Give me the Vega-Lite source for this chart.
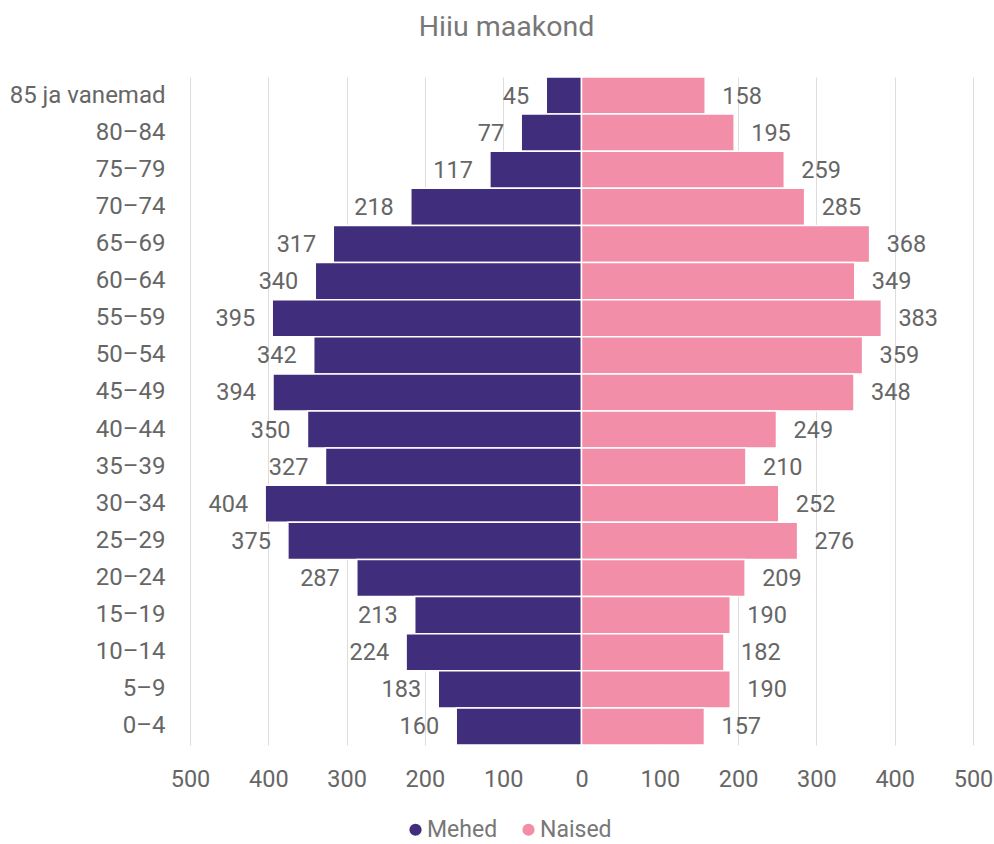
{
  "$schema": "https://vega.github.io/schema/vega-lite/v6.json",
  "width": 783,
  "height": 668,
  "autosize": {"type": "none"},
  "padding": {"left": 190, "top": 77, "right": 21, "bottom": 99},
  "config": {
    "font": "Roboto",
    "view": {"stroke": null},
    "axis": {"labelFont": "Roboto", "labelColor": "#666666", "labelFontSize": 23.5}
  },
  "title": {
    "text": "Hiiu maakond",
    "font": "Roboto",
    "fontSize": 28.5,
    "fontWeight": "normal",
    "color": "#777777",
    "anchor": "middle",
    "frame": "group",
    "dx": -75,
    "offset": 35
  },
  "data": {
    "values": [
      {"age": "85 ja vanemad", "sex": "Mehed", "value": 45},
      {"age": "80–84", "sex": "Mehed", "value": 77},
      {"age": "75–79", "sex": "Mehed", "value": 117},
      {"age": "70–74", "sex": "Mehed", "value": 218},
      {"age": "65–69", "sex": "Mehed", "value": 317},
      {"age": "60–64", "sex": "Mehed", "value": 340},
      {"age": "55–59", "sex": "Mehed", "value": 395},
      {"age": "50–54", "sex": "Mehed", "value": 342},
      {"age": "45–49", "sex": "Mehed", "value": 394},
      {"age": "40–44", "sex": "Mehed", "value": 350},
      {"age": "35–39", "sex": "Mehed", "value": 327},
      {"age": "30–34", "sex": "Mehed", "value": 404},
      {"age": "25–29", "sex": "Mehed", "value": 375},
      {"age": "20–24", "sex": "Mehed", "value": 287},
      {"age": "15–19", "sex": "Mehed", "value": 213},
      {"age": "10–14", "sex": "Mehed", "value": 224},
      {"age": "5–9", "sex": "Mehed", "value": 183},
      {"age": "0–4", "sex": "Mehed", "value": 160},
      {"age": "85 ja vanemad", "sex": "Naised", "value": 158},
      {"age": "80–84", "sex": "Naised", "value": 195},
      {"age": "75–79", "sex": "Naised", "value": 259},
      {"age": "70–74", "sex": "Naised", "value": 285},
      {"age": "65–69", "sex": "Naised", "value": 368},
      {"age": "60–64", "sex": "Naised", "value": 349},
      {"age": "55–59", "sex": "Naised", "value": 383},
      {"age": "50–54", "sex": "Naised", "value": 359},
      {"age": "45–49", "sex": "Naised", "value": 348},
      {"age": "40–44", "sex": "Naised", "value": 249},
      {"age": "35–39", "sex": "Naised", "value": 210},
      {"age": "30–34", "sex": "Naised", "value": 252},
      {"age": "25–29", "sex": "Naised", "value": 276},
      {"age": "20–24", "sex": "Naised", "value": 209},
      {"age": "15–19", "sex": "Naised", "value": 190},
      {"age": "10–14", "sex": "Naised", "value": 182},
      {"age": "5–9", "sex": "Naised", "value": 190},
      {"age": "0–4", "sex": "Naised", "value": 157}
    ]
  },
  "transform": [
    {"calculate": "datum.sex == 'Mehed' ? -datum.value : datum.value", "as": "signed"}
  ],
  "encoding": {
    "y": {
      "field": "age",
      "type": "nominal",
      "sort": null,
      "scale": {"paddingInner": 0, "paddingOuter": 0},
      "axis": {"title": null, "domain": false, "ticks": false, "labelPadding": 25, "labelLimit": 300, "labelFontSize": 24}
    },
    "x": {
      "field": "signed",
      "type": "quantitative",
      "scale": {"domain": [-500, 500], "nice": false},
      "axis": {
        "title": null,
        "values": [-500, -400, -300, -200, -100, 0, 100, 200, 300, 400, 500],
        "labelExpr": "format(abs(datum.value), 'd')",
        "labelFlush": false,
        "labelOverlap": false,
        "domain": false,
        "ticks": false,
        "grid": true,
        "gridColor": "#dddddd",
        "gridWidth": 1,
        "labelPadding": 22
      }
    }
  },
  "layer": [
    {
      "mark": {"type": "bar", "stroke": "#ffffff", "strokeWidth": 1.5},
      "encoding": {
        "color": {
          "field": "sex",
          "type": "nominal",
          "scale": {"domain": ["Mehed", "Naised"], "range": ["#402d7c", "#f28ea8"]},
          "legend": {
            "title": null,
            "orient": "none",
            "direction": "horizontal",
            "legendX": 214,
            "legendY": 741,
            "symbolType": "circle",
            "symbolSize": 150,
            "symbolStrokeWidth": 0,
            "labelFontSize": 23,
            "labelColor": "#777777",
            "labelFont": "Roboto",
            "columnPadding": 19,
            "labelOffset": 0
          }
        }
      }
    },
    {
      "transform": [{"filter": "datum.sex == 'Mehed'"}],
      "mark": {"type": "text", "align": "right", "baseline": "middle", "dx": -17, "dy": 1, "fontSize": 23.5, "color": "#666666"},
      "encoding": {"text": {"field": "value", "type": "quantitative"}}
    },
    {
      "transform": [{"filter": "datum.sex == 'Naised'"}],
      "mark": {"type": "text", "align": "left", "baseline": "middle", "dx": 17, "dy": 1, "fontSize": 23.5, "color": "#666666"},
      "encoding": {"text": {"field": "value", "type": "quantitative"}}
    }
  ]
}
